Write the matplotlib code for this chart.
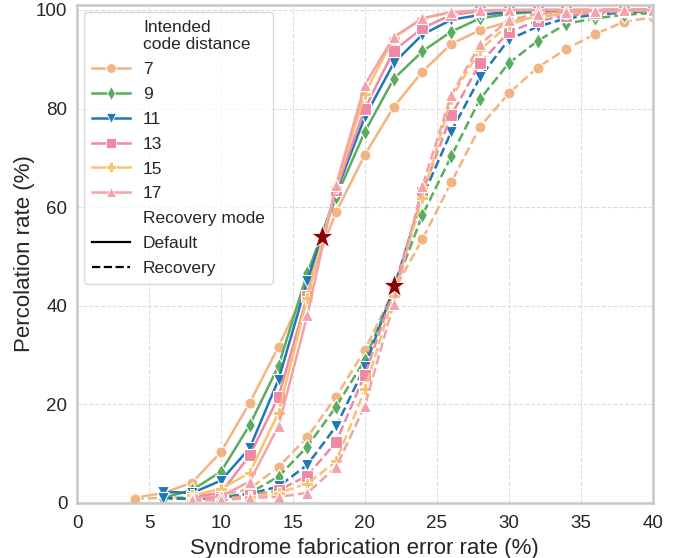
import numpy as np
import matplotlib
matplotlib.use("Agg")
import matplotlib.pyplot as plt
from matplotlib.lines import Line2D

plt.rcParams['font.family'] = ['Liberation Sans', 'DejaVu Sans']

# error rates (%) and percolation rates (%) per intended code distance
distances = [7, 9, 11, 13, 15, 17]
start_x = {7: 4, 9: 6, 11: 6, 13: 8, 15: 8, 17: 8}

default_rates = {
    7:  [1.0, 2.0, 4.1, 10.3, 20.3, 31.7, 44.0, 59.0, 70.6, 80.3, 87.5, 93.1, 95.9, 97.6, 98.6, 99.2, 99.5, 99.7, 99.8],
    9:  [1.0, 2.6, 6.3, 15.8, 27.8, 46.6, 62.0, 75.3, 86.0, 91.6, 95.6, 98.3, 99.2, 99.6, 99.8, 99.9, 100, 100],
    11: [2.2, 2.0, 4.5, 11.1, 25.0, 45.0, 63.0, 78.3, 89.2, 95.0, 98.0, 99.0, 99.6, 99.8, 99.9, 100, 100, 100],
    13: [1.2, 2.0, 9.6, 21.5, 42.0, 63.5, 80.0, 91.7, 96.3, 99.0, 99.7, 99.9, 100, 100, 100, 100, 100],
    15: [1.5, 2.8, 6.1, 18.3, 41.6, 64.0, 83.0, 94.3, 98.3, 99.5, 99.9, 100, 100, 100, 100, 100, 100],
    17: [1.0, 1.3, 4.3, 15.6, 38.0, 64.5, 84.8, 94.5, 98.3, 99.6, 99.9, 100, 100, 100, 100, 100, 100],
}

recovery_rates = {
    7:  [0.8, 1.0, 1.2, 1.5, 2.8, 7.3, 13.3, 21.5, 31.0, 43.0, 53.5, 65.0, 76.3, 83.1, 88.3, 92.1, 95.1, 97.6, 98.5],
    9:  [0.8, 0.8, 1.0, 2.0, 5.3, 11.4, 19.5, 29.0, 43.0, 58.4, 70.3, 81.9, 89.2, 93.7, 97.2, 98.3, 99.0, 99.4],
    11: [1.0, 0.8, 1.0, 1.8, 3.3, 7.7, 15.5, 27.6, 43.5, 62.0, 75.3, 86.3, 94.0, 96.6, 98.3, 99.0, 99.5, 99.7],
    13: [0.5, 0.8, 1.5, 2.5, 5.5, 12.3, 26.0, 43.0, 63.0, 78.6, 89.2, 95.5, 97.8, 98.8, 99.4, 99.7, 99.8],
    15: [0.5, 0.6, 1.2, 2.0, 3.9, 8.4, 23.0, 42.0, 61.9, 82.0, 91.9, 97.0, 98.8, 99.4, 99.7, 99.9, 100],
    17: [0.5, 0.5, 1.0, 1.2, 2.0, 7.2, 19.7, 40.4, 64.3, 82.7, 93.0, 98.0, 99.2, 99.6, 99.8, 100, 100],
}

thresholds_x = [17, 22]
thresholds_y = [54, 44]

colors = {7: '#f2b482', 9: '#5aad5e', 11: '#1f77b4', 13: '#f088a8', 15: '#f7c46c', 17: '#f4a2a8'}
markers = {7: 'o', 9: 'd', 11: 'v', 13: 's', 15: 'P', 17: '^'}

fig = plt.figure(figsize=(6.82, 5.58), dpi=100)
ax = fig.add_axes([0.113, 0.099, 0.844, 0.892])

for d in distances:
    xs = np.arange(start_x[d], 41, 2)
    ax.plot(xs, default_rates[d], color=colors[d], marker=markers[d], ms=8,
            mec='white', mew=0.8, lw=1.8, ls='-')
    ax.plot(xs, recovery_rates[d], color=colors[d], marker=markers[d], ms=8,
            mec='white', mew=0.8, lw=1.8, ls='--')

ax.plot(thresholds_x, thresholds_y, ls='none', marker='*', ms=17,
        color='#8b0000', mec='white', mew=0.6, zorder=10)

ax.set_xlim(0, 40)
ax.set_ylim(0, 101)
ax.set_xticks(range(0, 41, 5))
ax.set_yticks(range(0, 101, 20))
ax.tick_params(length=0, labelsize=13.5, colors='#262626', pad=7)
ax.tick_params(axis='x', pad=9)
ax.grid(True, ls='--', color='#dcdcdc', lw=0.8)
ax.set_axisbelow(True)
for s in ax.spines.values():
    s.set_color('#c8c8c8')
    s.set_linewidth(1.8)

ax.set_xlabel('Syndrome fabrication error rate (%)', fontsize=16, color='#262626', labelpad=4)
ax.set_ylabel('Percolation rate (%)', fontsize=16, color='#262626', labelpad=1)

blank = Line2D([], [], ls='none')
handles = [blank]
labels = ['Intended\ncode distance']
for d in distances:
    handles.append(Line2D([], [], color=colors[d], marker=markers[d], ms=7,
                          mec='white', mew=0.6, lw=1.8))
    labels.append(str(d))
handles += [blank, Line2D([], [], color='black', lw=1.6),
            Line2D([], [], color='black', lw=1.6, ls='--')]
labels += ['Recovery mode', 'Default', 'Recovery']

leg = ax.legend(handles, labels, loc='upper left', fontsize=12.5, handlelength=2.2,
                handletextpad=0.75, frameon=True, borderpad=0.45, labelspacing=0.56,
                bbox_to_anchor=(0.0, 1.0), borderaxespad=0.4)
leg.get_frame().set_edgecolor('#d0d0d0')
leg.get_frame().set_linewidth(1.0)
for t in leg.get_texts():
    t.set_color('#262626')

fig.savefig('out.png', dpi=100)
